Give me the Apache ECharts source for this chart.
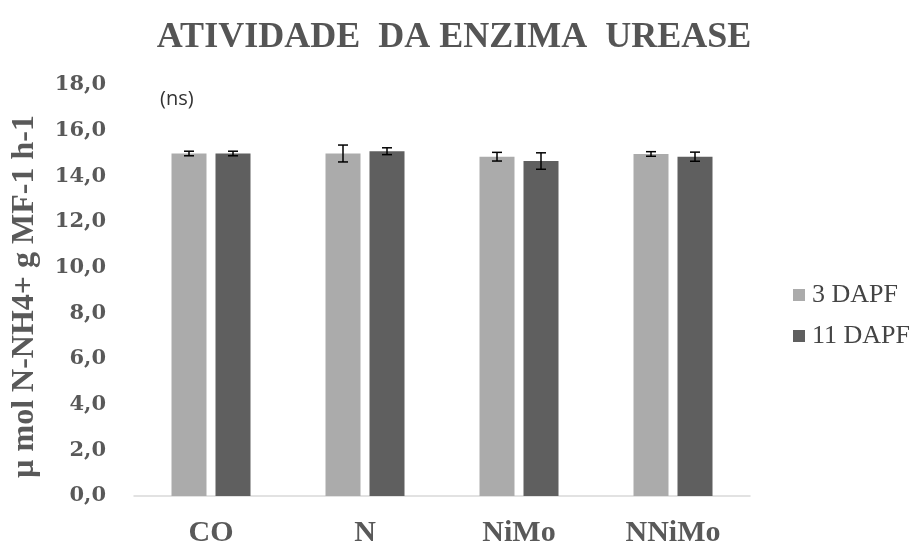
<!DOCTYPE html>
<html><head><meta charset="utf-8">
<script src="https://cdn.jsdelivr.net/npm/echarts@6/dist/echarts.min.js"></script>
<style>html,body{margin:0;padding:0;background:#fff}#c{width:913px;height:548px}</style>
</head><body><div id="c"></div>
<script>
const categories = ['CO', 'N', 'NiMo', 'NNiMo'];
const seriesNames = ['3 DAPF', '11 DAPF'];
const values3 = [15.0, 15.0, 14.86, 14.98];
const err3 = [0.1, 0.37, 0.19, 0.1];
const values11 = [15.0, 15.1, 14.67, 14.86];
const err11 = [0.1, 0.15, 0.36, 0.2];
const yTicks = [0, 2, 4, 6, 8, 10, 12, 14, 16, 18];

const chart = echarts.init(document.getElementById('c'));
const serif = '"Liberation Serif", "DejaVu Serif", serif';
const wideSerif = '"DejaVu Serif", serif';
const txt = '#595959';
const BW = 35, GAP = 9;

function errSeries(vals, errs, offset) {
  return {
    type: 'custom',
    z: 10,
    data: vals.map((v, i) => [i, v, errs[i]]),
    renderItem: function (params, api) {
      const x = api.coord([api.value(0), 0])[0] + offset;
      const v = api.value(1), e = api.value(2);
      const top = api.coord([api.value(0), v + e])[1];
      const bot = api.coord([api.value(0), v - e])[1];
      const cap = 5;
      const st = { stroke: '#000', lineWidth: 1.5 };
      return { type: 'group', children: [
        { type: 'line', shape: { x1: x, y1: top, x2: x, y2: bot }, style: st },
        { type: 'line', shape: { x1: x - cap, y1: top, x2: x + cap, y2: top }, style: st },
        { type: 'line', shape: { x1: x - cap, y1: bot, x2: x + cap, y2: bot }, style: st }
      ]};
    }
  };
}

chart.setOption({
  animation: false,
  title: {
    text: 'ATIVIDADE  DA ENZIMA  UREASE',
    left: 449, top: 15, textAlign: 'center',
    textStyle: { fontFamily: serif, fontWeight: 'bold', fontSize: 36, color: '#555' }
  },
  legend: {
    orient: 'vertical', left: 788, top: 277, itemGap: 15,
    itemWidth: 12, itemHeight: 12, icon: 'rect',
    data: seriesNames,
    textStyle: { fontFamily: serif, fontSize: 26, color: '#444', padding: [0, 0, 0, 2] }
  },
  graphic: [{ type: 'text', left: 160, top: 89, style: { text: '(ns)', font: '20px "Open Sans", sans-serif', fill: '#333' } }],
  grid: { left: 134, right: 163, top: 85, bottom: 52 },
  xAxis: {
    type: 'category', data: categories,
    axisLine: { lineStyle: { color: '#d9d9d9', width: 1.5 } },
    axisTick: { show: false },
    axisLabel: { fontFamily: serif, fontWeight: 'bold', fontSize: 30, color: txt, margin: 22 }
  },
  yAxis: {
    type: 'value', min: 0, max: 18, interval: 2,
    name: 'µ mol N-NH4+ g MF-1 h-1', nameLocation: 'middle', nameGap: 93, nameRotate: 90,
    nameTextStyle: { fontFamily: serif, fontWeight: 'bold', fontSize: 32, color: txt, padding: [0, 12, 0, 0] },
    splitLine: { show: false },
    axisLine: { show: false }, axisTick: { show: false },
    axisLabel: {
      fontFamily: wideSerif, fontWeight: 'bold', fontSize: 21, color: txt, margin: 28,
      formatter: v => yTicks.includes(v) ? v.toFixed(1).replace('.', ',') : ''
    }
  },
  series: [
    { name: seriesNames[0], type: 'bar', data: values3, barWidth: BW, barGap: (GAP / BW * 100) + '%', itemStyle: { color: '#ababab' } },
    { name: seriesNames[1], type: 'bar', data: values11, barWidth: BW, itemStyle: { color: '#5f5f5f' } },
    errSeries(values3, err3, -(BW + GAP) / 2),
    errSeries(values11, err11, (BW + GAP) / 2)
  ]
});
</script></body></html>
